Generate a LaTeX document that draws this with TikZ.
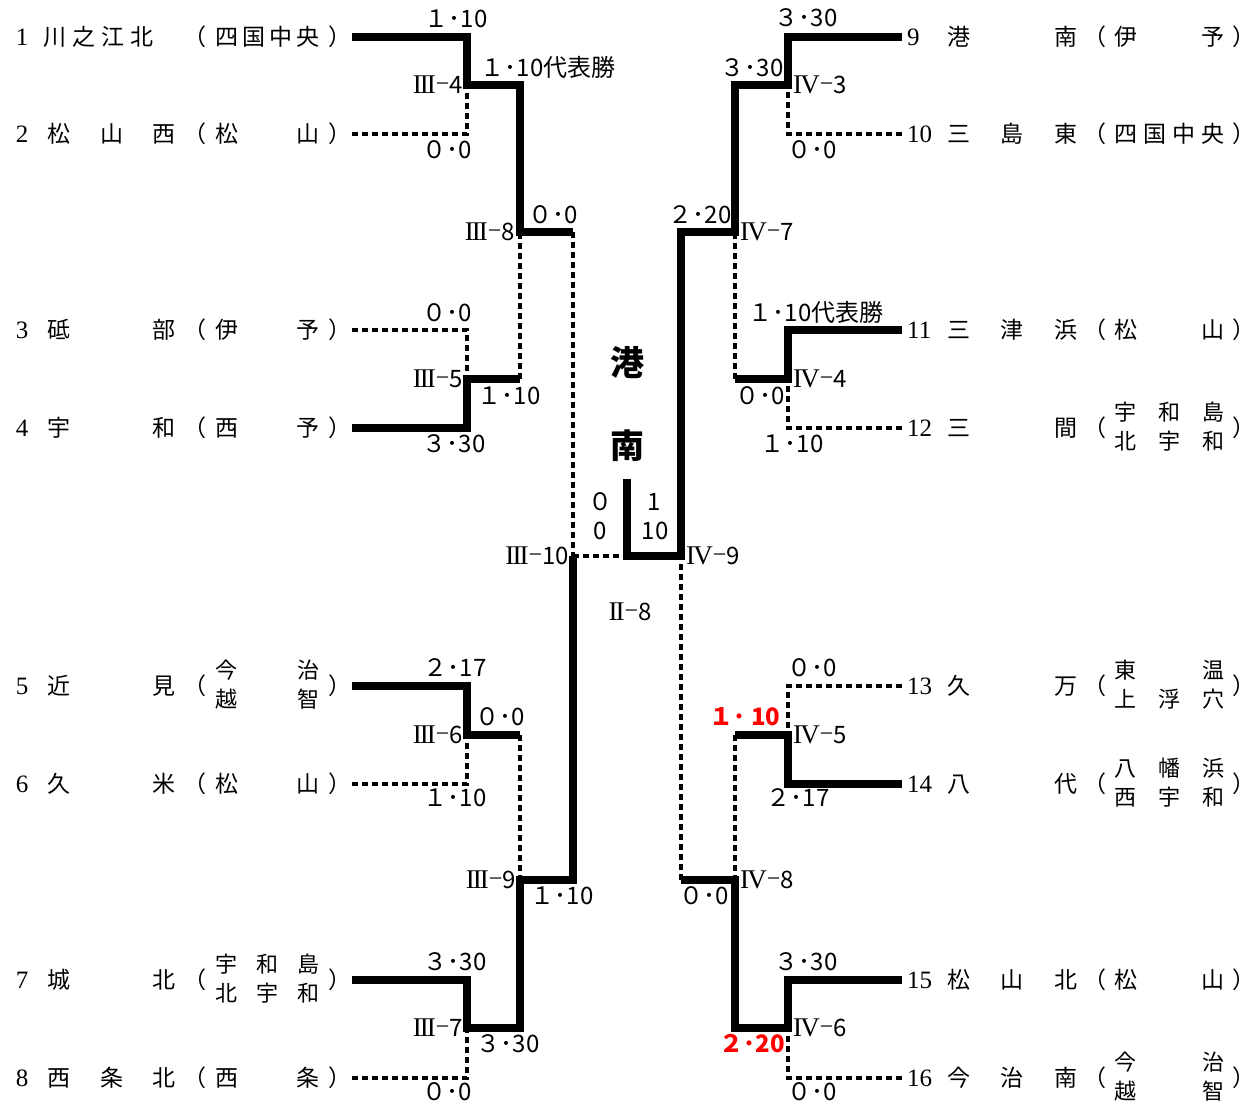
\documentclass[tikz,border=0pt]{standalone}
\usepackage{fontspec}
\setmainfont{Liberation Serif}
\newfontfamily\jp{Noto Sans CJK JP}
\newcommand\tmL[3]{\makebox[32pt][l]{\fontsize{25}{25}\selectfont #1}\makebox[128pt][s]{\jp #2}\hspace{8pt}{\jp （}\hspace{9pt}\makebox[104pt][s]{\jp #3}\hspace{9pt}{\jp ）}\hspace{4pt}}
\newcommand\tmR[3]{\hspace{5pt}\makebox[40pt][l]{\fontsize{25}{25}\selectfont #1}\makebox[130pt][s]{\jp #2}\hspace{6pt}{\jp （}\hspace{8pt}\makebox[110pt][s]{\jp #3}\hspace{8pt}{\jp ）}}
\newcommand\two[3]{\raisebox{2pt}{\fontsize{22}{29}\selectfont\begin{tabular}[c]{@{}l@{}}\hbox to #1{#2}\\\hbox to #1{#3}\end{tabular}}}
\newcommand\rIII{{\rmfamily\fontsize{27}{27}\selectfont I\kern-1.9pt I\kern-1.9pt I}}
\newcommand\rIV{{\rmfamily\fontsize{27}{27}\selectfont I\kern-1.9pt V}}
\newcommand\rII{{\rmfamily\fontsize{27}{27}\selectfont I\kern-1.9pt I}}
\newcommand\rn[2]{#1\raisebox{2.5pt}{\rmfamily −}#2}
\tikzset{
 win/.style={line width=7.5pt, line join=miter},
 lose/.style={line width=3.5pt, dash pattern=on 6pt off 4pt},
 lbl/.style={inner sep=0pt, text height=17.6pt, text depth=0pt, font=\jp\fontsize{24}{24}\selectfont},
 red lbl/.style={lbl, text=red, font=\jp\bfseries\fontsize{24}{24}\selectfont},
 team/.style={inner sep=0pt, text height=19.4pt, text depth=2.6pt, font=\fontsize{23}{23}\selectfont},
 big/.style={inner sep=0pt, font=\jp\bfseries\fontsize{34}{34}\selectfont},
}
\begin{document}
\begin{tikzpicture}[x=1pt,y=-1pt]
\fill[white] (0,0) rectangle (1258,1104);
\useasboundingbox (0,0) rectangle (1258,1104);
% teams left
\node[team,anchor=east] (t1) at (352,37) {\tmL{1}{\hspace{-4pt}川\hspace{6pt}之\hspace{6pt}江\hspace{6pt}北\hfil}{四\hfil 国\hfil 中\hfil 央}};
\node[team,anchor=east] (t2) at (352,134) {\tmL{2}{松\hfil 山\hfil 西}{松\hfil 山}};
\node[team,anchor=east] (t3) at (352,330) {\tmL{3}{砥\hfil 部}{伊\hfil 予}};
\node[team,anchor=east] (t4) at (352,428) {\tmL{4}{宇\hfil 和}{西\hfil 予}};
\node[team,anchor=east] (t5) at (352,686) {\tmL{5}{近\hfil 見}{\two{104pt}{今\hfil 治}{越\hfil 智}}};
\node[team,anchor=east] (t6) at (352,784) {\tmL{6}{久\hfil 米}{松\hfil 山}};
\node[team,anchor=east] (t7) at (352,980) {\tmL{7}{城\hfil 北}{\two{104pt}{宇\hfil 和\hfil 島}{北\hfil 宇\hfil 和}}};
\node[team,anchor=east] (t8) at (352,1078) {\tmL{8}{西\hfil 条\hfil 北}{西\hfil 条}};
% teams right
\node[team,anchor=west] (t9) at (902,37) {\tmR{9}{港\hfil 南}{伊\hfil 予}};
\node[team,anchor=west] (t10) at (902,134) {\tmR{10}{三\hfil 島\hfil 東}{四\hfil 国\hfil 中\hfil 央}};
\node[team,anchor=west] (t11) at (902,330) {\tmR{11}{三\hfil 津\hfil 浜}{松\hfil 山}};
\node[team,anchor=west] (t12) at (902,428) {\tmR{12}{三\hfil 間}{\two{110pt}{宇\hfil 和\hfil 島}{北\hfil 宇\hfil 和}}};
\node[team,anchor=west] (t13) at (902,686) {\tmR{13}{久\hfil 万}{\two{110pt}{東\hfil 温}{上\hfil 浮\hfil 穴}}};
\node[team,anchor=west] (t14) at (902,784) {\tmR{14}{八\hfil 代}{\two{110pt}{八\hfil 幡\hfil 浜}{西\hfil 宇\hfil 和}}};
\node[team,anchor=west] (t15) at (902,980) {\tmR{15}{松\hfil 山\hfil 北}{松\hfil 山}};
\node[team,anchor=west] (t16) at (902,1078) {\tmR{16}{今\hfil 治\hfil 南}{\two{110pt}{今\hfil 治}{越\hfil 智}}};
% junctions
\coordinate (m4) at (467,85);
\coordinate (m5) at (467,379);
\coordinate (m6) at (467,735);
\coordinate (m7) at (467,1028);
\coordinate (m8) at (520,232);
\coordinate (m9) at (520,880);
\coordinate (m10) at (573,556);
\coordinate (n3) at (788,85);
\coordinate (n4) at (788,379);
\coordinate (n5) at (788,735);
\coordinate (n6) at (788,1028);
\coordinate (n7) at (735,232);
\coordinate (n8) at (735,880);
\coordinate (n9) at (681,556);
\coordinate (f) at (627,556);
\coordinate (ftop) at (627,479);
% losing lines
\draw[lose] (t2.east) -| (m4);
\draw[lose] (t3.east) -| (m5);
\draw[lose] (m5 -| m8) -- (m8);
\draw[lose] (m8 -| m10) -- (m10);
\draw[lose] (t6.east) -| (m6);
\draw[lose] (m6 -| m9) -- (m9);
\draw[lose] (t8.east) -| (m7);
\draw[lose] (m10) -- (f);
\draw[lose] (t10.west) -| (n3);
\draw[lose] (t12.west) -| (n4);
\draw[lose] (n4 -| n7) -- (n7);
\draw[lose] (t13.west) -| (n5);
\draw[lose] (n5 -| n8) -- (n8);
\draw[lose] (t16.west) -| (n6);
\draw[lose] (n8 -| n9) -- (n9);
% winning lines
\draw[win] (t1.east) -| (m4) -- (m4 -| m8) -- (m8) -- (m8 -| m10);
\draw[win] (t4.east) -| (m5) -- (m5 -| m8);
\draw[win] (t5.east) -| (m6) -- (m6 -| m9);
\draw[win] (t7.east) -| (m7) -- (m7 -| m9) -- (m9) -- (m9 -| m10) -- (m10);
\draw[win] (ftop) -- (f) -- (n9) -- (n9 |- n7) -- (n7) -- (n7 |- n3) -- (n3) |- (t9.west);
\draw[win] (t11.west) -| (n4) -- (n4 -| n7);
\draw[win] (t14.west) -| (n5) -- (n5 -| n8);
\draw[win] (t15.west) -| (n6) -- (n6 -| n8) -- (n8) -- (n8 -| n9);
% left labels
\node[lbl] (l1) at (456,19) {１･10};
\node[lbl,anchor=east] (l2) at (463,85) {\rn{\rIII}{4}};
\node[lbl] (l3) at (447,150) {０･0};
\node[lbl] (l4) at (548,68) {１･10代表勝};
\node[lbl,anchor=east] (l5) at (515,232) {\rn{\rIII}{8}};
\node[lbl] (l6) at (553,215) {０･0};
\node[lbl] (l7) at (447,313) {０･0};
\node[lbl,anchor=east] (l8) at (463,379) {\rn{\rIII}{5}};
\node[lbl] (l9) at (509,396) {１･10};
\node[lbl] (l10) at (454,444) {３･30};
\node[lbl] (l11) at (455,668) {２･17};
\node[lbl,anchor=east] (l12) at (463,735) {\rn{\rIII}{6}};
\node[lbl] (l13) at (500,717) {０･0};
\node[lbl] (l14) at (455,798) {１･10};
\node[lbl,anchor=east] (l15) at (516,880) {\rn{\rIII}{9}};
\node[lbl] (l16) at (562,896) {１･10};
\node[lbl] (l17) at (455,962) {３･30};
\node[lbl,anchor=east] (l18) at (463,1028) {\rn{\rIII}{7}};
\node[lbl] (l19) at (508,1044) {３･30};
\node[lbl] (l20) at (447,1092) {０･0};
\node[lbl,anchor=east] (l21) at (569,556) {\rn{\rIII}{10}};
% centre
\node[big] (c1) at (627,363) {港};
\node[big] (c2) at (627,446) {南};
\node[lbl] (c3) at (600,502) {０};
\node[lbl] (c4) at (600,531) {0};
\node[lbl] (c5) at (654,502) {1};
\node[lbl] (c6) at (655,531) {10};
\node[lbl] (c7) at (630,612) {\rn{\rII}{8}};
% right labels
\node[lbl] (r1) at (806,18) {３･30};
\node[lbl] (r2) at (752,68) {３･30};
\node[lbl,anchor=west] (r3) at (793,85) {\rn{\rIV}{3}};
\node[lbl] (r4) at (812,150) {０･0};
\node[lbl] (r5) at (700,215) {２･20};
\node[lbl,anchor=west] (r6) at (740,232) {\rn{\rIV}{7}};
\node[lbl] (r7) at (816,313) {１･10代表勝};
\node[lbl,anchor=west] (r8) at (793,379) {\rn{\rIV}{4}};
\node[lbl] (r9) at (760,396) {０･0};
\node[lbl] (r10) at (792,444) {１･10};
\node[lbl] (r11) at (812,668) {０･0};
\node[red lbl] (r12) at (745,717) {１･ 10};
\node[lbl,anchor=west] (r13) at (793,735) {\rn{\rIV}{5}};
\node[lbl] (r14) at (798,798) {２･17};
\node[lbl,anchor=west] (r15) at (740,880) {\rn{\rIV}{8}};
\node[lbl] (r16) at (704,896) {０･0};
\node[lbl] (r17) at (806,962) {３･30};
\node[lbl,anchor=west] (r18) at (793,1028) {\rn{\rIV}{6}};
\node[red lbl] (r19) at (752,1044) {２･20};
\node[lbl] (r20) at (812,1092) {０･0};
\node[lbl,anchor=west] (r21) at (686,556) {\rn{\rIV}{9}};
\end{tikzpicture}
\end{document}
